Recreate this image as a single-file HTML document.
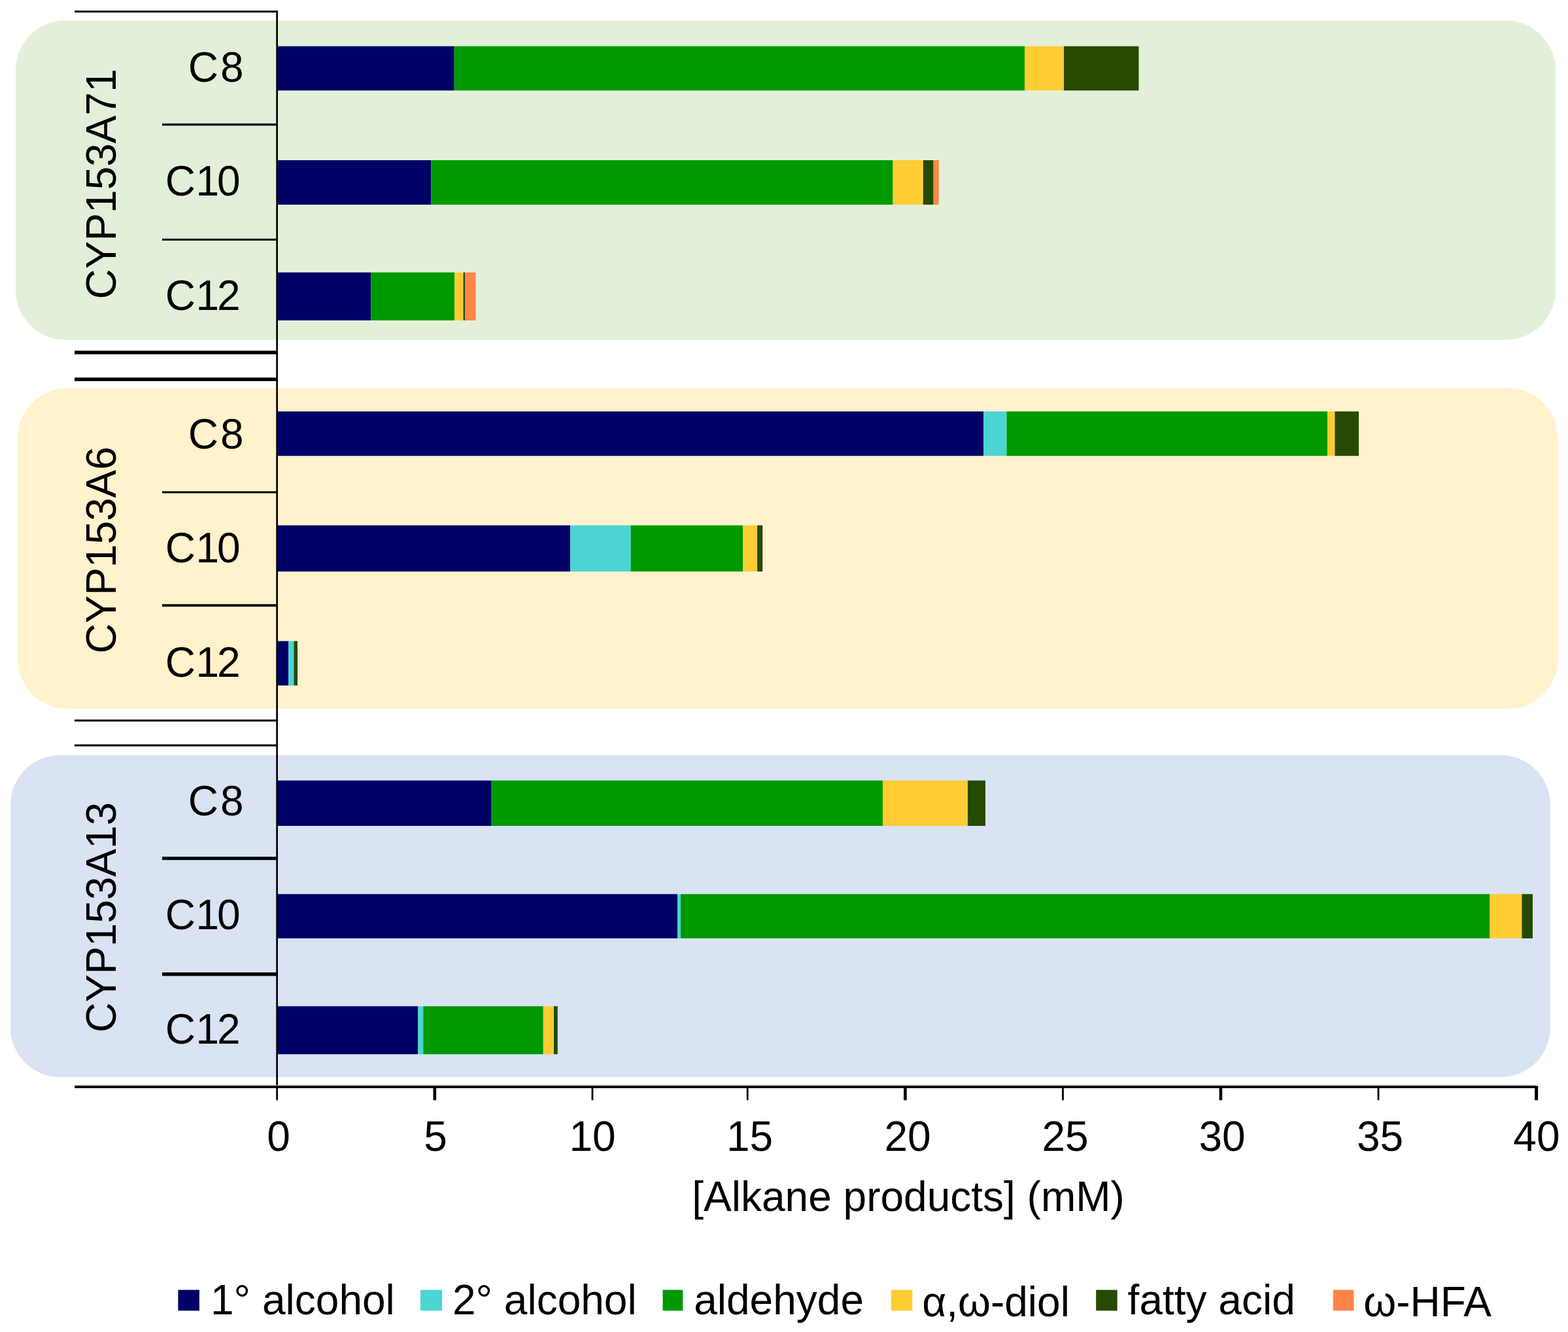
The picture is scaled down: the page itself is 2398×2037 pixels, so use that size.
<!DOCTYPE html>
<html lang="en">
<head>
<meta charset="utf-8">
<title>Alkane products by CYP153A enzyme</title>
<style>
html,body{margin:0;padding:0;background:#fff;}
body{width:2398px;height:2037px;overflow:hidden;}
svg{display:block;}
text{font-family:"Liberation Sans",sans-serif;font-size:64px;fill:#000;}
</style>
</head>
<body>
<svg width="2398" height="2037" viewBox="0 0 2398 2037">
<rect x="0" y="0" width="2398" height="2037" fill="#fff"/>
<!-- enzyme group backgrounds -->
<rect x="24" y="31.3" width="2355" height="488.4" rx="76" ry="76" fill="#E3F0D9"/>
<rect x="27" y="593.8" width="2355.6" height="489.9" rx="76" ry="76" fill="#FFF2CC"/>
<rect x="16" y="1154.7" width="2355" height="492.6" rx="76" ry="76" fill="#DAE3F3"/>
<!-- stacked bars -->
<rect x="424.5" y="70.7" width="270.2" height="67.7" fill="#000066"/>
<rect x="694.7" y="70.7" width="872.3" height="67.7" fill="#009900"/>
<rect x="1567" y="70.7" width="60" height="67.7" fill="#FFCC33"/>
<rect x="1627" y="70.7" width="114.5" height="67.7" fill="#254A00"/>
<rect x="424.5" y="245" width="234.8" height="68" fill="#000066"/>
<rect x="659.3" y="245" width="706.3" height="68" fill="#009900"/>
<rect x="1365.6" y="245" width="46.2" height="68" fill="#FFCC33"/>
<rect x="1411.8" y="245" width="15.8" height="68" fill="#254A00"/>
<rect x="1427.6" y="245" width="8.1" height="68" fill="#FF8548"/>
<rect x="424.5" y="416.6" width="142.8" height="73.4" fill="#000066"/>
<rect x="567.3" y="416.6" width="127.9" height="73.4" fill="#009900"/>
<rect x="695.2" y="416.6" width="13.4" height="73.4" fill="#FFCC33"/>
<rect x="708.6" y="416.6" width="2.7" height="73.4" fill="#254A00"/>
<rect x="711.3" y="416.6" width="16.2" height="73.4" fill="#FF8548"/>
<rect x="424.5" y="629.2" width="1079.5" height="68" fill="#000066"/>
<rect x="1504" y="629.2" width="35.5" height="68" fill="#4CD4D4"/>
<rect x="1539.5" y="629.2" width="490.7" height="68" fill="#009900"/>
<rect x="2030.2" y="629.2" width="11.2" height="68" fill="#FFCC33"/>
<rect x="2041.4" y="629.2" width="36.6" height="68" fill="#254A00"/>
<rect x="424.5" y="803.4" width="447.6" height="70.6" fill="#000066"/>
<rect x="872.1" y="803.4" width="92.5" height="70.6" fill="#4CD4D4"/>
<rect x="964.6" y="803.4" width="171.6" height="70.6" fill="#009900"/>
<rect x="1136.2" y="803.4" width="21.9" height="70.6" fill="#FFCC33"/>
<rect x="1158.1" y="803.4" width="8.1" height="70.6" fill="#254A00"/>
<rect x="424.5" y="980.4" width="16.7" height="67.9" fill="#000066"/>
<rect x="441.2" y="980.4" width="8.2" height="67.9" fill="#4CD4D4"/>
<rect x="449.4" y="980.4" width="5.6" height="67.9" fill="#254A00"/>
<rect x="424.5" y="1193.6" width="327.2" height="69.4" fill="#000066"/>
<rect x="751.7" y="1193.6" width="598.3" height="69.4" fill="#009900"/>
<rect x="1350" y="1193.6" width="130" height="69.4" fill="#FFCC33"/>
<rect x="1480" y="1193.6" width="27" height="69.4" fill="#254A00"/>
<rect x="424.5" y="1367.3" width="611.5" height="67.7" fill="#000066"/>
<rect x="1036" y="1367.3" width="5" height="67.7" fill="#4CD4D4"/>
<rect x="1041" y="1367.3" width="1237.5" height="67.7" fill="#009900"/>
<rect x="2278.5" y="1367.3" width="49" height="67.7" fill="#FFCC33"/>
<rect x="2327.5" y="1367.3" width="16.5" height="67.7" fill="#254A00"/>
<rect x="424.5" y="1538.8" width="214.5" height="73.4" fill="#000066"/>
<rect x="639" y="1538.8" width="8.3" height="73.4" fill="#4CD4D4"/>
<rect x="647.3" y="1538.8" width="183.5" height="73.4" fill="#009900"/>
<rect x="830.8" y="1538.8" width="16.2" height="73.4" fill="#FFCC33"/>
<rect x="847" y="1538.8" width="5.8" height="73.4" fill="#254A00"/>
<!-- axes and dividers -->
<g fill="#000">
<rect x="422.3" y="16.2" width="2.7" height="1666.3"/>
<rect x="114.1" y="1659.3" width="2234.9" height="1.5" fill="#9a9a9a"/>
<rect x="114.1" y="1660.6" width="2238.1" height="3.5"/>
<rect x="114.2" y="16.2" width="309.1" height="3"/>
<rect x="248" y="188.8" width="175.3" height="3.4"/>
<rect x="248" y="364.9" width="175.3" height="3"/>
<rect x="114" y="536.35" width="309.3" height="5.4"/>
<rect x="114" y="577.4" width="309.3" height="5.4"/>
<rect x="248" y="751.3" width="175.3" height="3"/>
<rect x="248" y="923.9" width="175.3" height="3.8"/>
<rect x="114" y="1100.4" width="309.3" height="3"/>
<rect x="114" y="1138.4" width="309.3" height="3"/>
<rect x="248" y="1310.2" width="175.3" height="5"/>
<rect x="248" y="1487.1" width="175.3" height="5.4"/>
<rect x="662.5" y="1662" width="4.6" height="20.5"/>
<rect x="904.6" y="1662" width="2.8" height="20.5"/>
<rect x="1141.8" y="1662" width="2.8" height="20.5"/>
<rect x="1382.1" y="1662" width="4.6" height="20.5"/>
<rect x="1624.1" y="1662" width="2.8" height="20.5"/>
<rect x="1864.6" y="1662" width="4.6" height="20.5"/>
<rect x="2106.6" y="1662" width="2.8" height="20.5"/>
<rect x="2347.1" y="1662" width="5" height="20.5"/>
</g>
<!-- category labels -->
<text x="287.8 336.9" y="124.7">C8</text>
<text x="252.8 299.5 332" y="299.3">C10</text>
<text x="252.8 299.5 332" y="474">C12</text>
<text x="287.8 336.9" y="686.2">C8</text>
<text x="252.8 299.5 332" y="860.3">C10</text>
<text x="252.8 299.5 332" y="1034.5">C12</text>
<text x="287.8 336.9" y="1247.1">C8</text>
<text x="252.8 299.5 332" y="1421">C10</text>
<text x="252.8 299.5 332" y="1596.1">C12</text>
<text transform="translate(176.8 457.5) rotate(-90)">CYP153A71</text>
<text transform="translate(176.8 999.5) rotate(-90)">CYP153A6</text>
<text transform="translate(176.8 1579) rotate(-90)">CYP153A13</text>
<!-- x axis labels -->
<text x="408.3" y="1760">0</text>
<text x="648.2" y="1760">5</text>
<text x="870.5" y="1760">10</text>
<text x="1111" y="1760">15</text>
<text x="1352.4" y="1760">20</text>
<text x="1593.4" y="1760">25</text>
<text x="1833.5" y="1760">30</text>
<text x="2074.9" y="1760">35</text>
<text x="2314.3" y="1760">40</text>
<text x="1058.3" y="1851.5">[Alkane products] (mM)</text>
<!-- legend -->
<rect x="272.4" y="1972.6" width="32.5" height="31.8" fill="#000066"/>
<text x="322" y="2009.5">1° alcohol</text>
<rect x="642.9" y="1972.6" width="33.2" height="31.8" fill="#4CD4D4"/>
<text x="691.9" y="2009.5">2° alcohol</text>
<rect x="1013.6" y="1972.6" width="30.7" height="31.8" fill="#009900"/>
<text x="1061.2" y="2009.5">aldehyde</text>
<rect x="1362.8" y="1972.6" width="32.5" height="31.8" fill="#FFCC33"/>
<text x="1410.2" y="2013.3">α,ω-diol</text>
<rect x="1676.2" y="1972.6" width="32.5" height="31.8" fill="#254A00"/>
<text x="1724.6" y="2009.5">fatty acid</text>
<rect x="2038.7" y="1972.6" width="31.8" height="31.8" fill="#FF8548"/>
<text x="2085.2" y="2013">ω-HFA</text>
</svg>
</body>
</html>
